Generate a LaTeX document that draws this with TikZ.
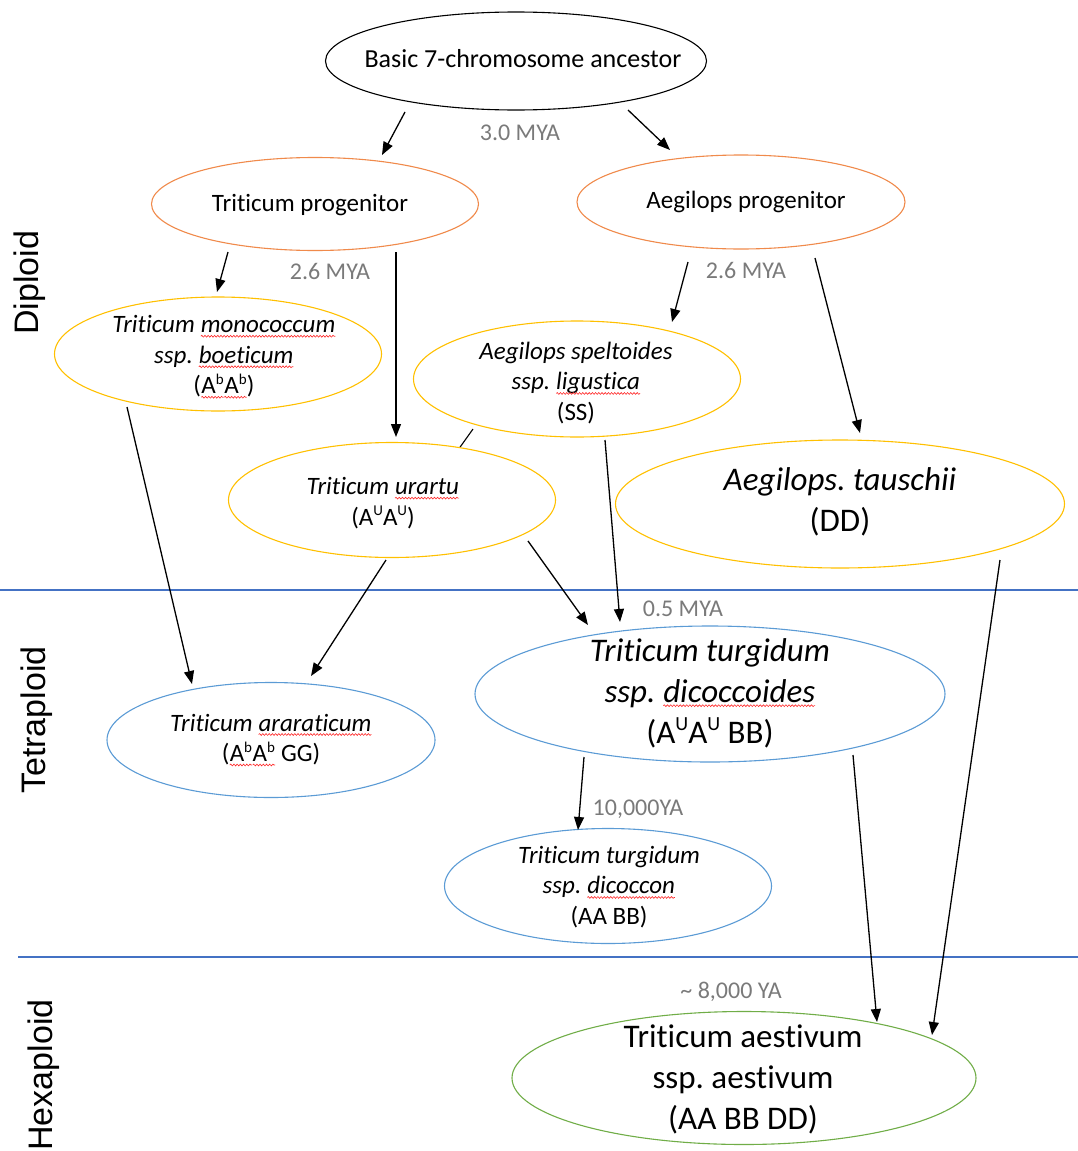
\documentclass[tikz,border=0pt]{standalone}
\usepackage{fontspec}
\setmainfont[RawFeature={-liga;-clig;-dlig;-calt}]{Carlito}
\newfontfamily\sidefont{Liberation Sans}
\usetikzlibrary{arrows.meta,calc,shapes.geometric,decorations.pathmorphing}
\definecolor{ancC}{HTML}{000000}
\definecolor{orgC}{HTML}{F08A4B}
\definecolor{yelC}{HTML}{FFC000}
\definecolor{bluC}{HTML}{5B9BD5}
\definecolor{grnC}{HTML}{70AD47}
\definecolor{linC}{HTML}{4472C4}
\definecolor{gryC}{HTML}{7A7A7A}
\newcommand\sqg[1]{\tikz[baseline=(w.base),x=1pt,y=1pt]{\node[inner sep=0pt,outer sep=0pt](w){#1};\draw[red!85,line width=0.6pt,decorate,decoration={snake,amplitude=0.9pt,segment length=3.2pt}] ([yshift=-3.5pt]w.base -| w.west) -- ([yshift=-3.5pt]w.base -| w.east);}}
\newcommand\sps[1]{\raisebox{0.38em}{\fontsize{15}{15}\selectfont #1}}
\frenchspacing
\begin{document}
\begin{tikzpicture}[x=1pt,y=-1pt,
  oval/.style={ellipse,draw,line width=1.1pt,inner sep=0pt,fill=white},
  txt/.style={align=center,inner sep=0pt,font=\fontsize{25}{30.5}\selectfont},
  bigtxt/.style={align=center,inner sep=0pt,font=\fontsize{33}{41}\selectfont},
  age/.style={inner sep=0pt,text=gryC,font=\fontsize{24}{28}\selectfont},
  side/.style={inner sep=0pt,rotate=90,font=\sidefont\fontsize{34}{38}\selectfont},
  arr/.style={draw,line width=1.3pt,-{Triangle[length=13pt,width=10pt]}},
  sep/.style={draw=linC,line width=1.1pt}]
\useasboundingbox (0,0) rectangle (1078,1151);
% separators
\coordinate (s1a) at (0,590); \coordinate (s1b) at (1078,590);
\coordinate (s2a) at (18,957); \coordinate (s2b) at (1078,957);
\draw[sep] (s1a) -- (s1b);
\draw[sep] (s2a) -- (s2b);
% side labels
\node[side] (ldip) at (30,283) {Diploid};
\node[side] (ltet) at (37,720) {Tetraploid};
\node[side] (lhex) at (44,1075) {Hexaploid};
% short leftover line (drawn before ovals)
\node[oval,draw=yelC,minimum width=327pt,minimum height=116pt] (spel) at (577,379) {};
\draw[line width=1.1pt] ($(spel)+(-104,50)$) -- ($(spel)+(-119,71)$);
% ovals
\node[oval,draw=ancC,minimum width=381pt,minimum height=98pt] (anc) at (516,61) {};
\node[oval,draw=orgC,minimum width=327pt,minimum height=93pt] (tprog) at (315,204) {};
\node[oval,draw=orgC,minimum width=328pt,minimum height=94pt] (aprog) at (741,202) {};
\node[oval,draw=yelC,minimum width=327pt,minimum height=114pt] (mono) at (218,354) {};
\node[oval,draw=yelC,minimum width=327pt,minimum height=115pt] (urar) at (392,500) {};
\node[oval,draw=yelC,minimum width=449pt,minimum height=128pt] (taus) at (840,504) {};
\node[oval,draw=bluC,minimum width=328pt,minimum height=115pt] (arar) at (271,740) {};
\node[oval,draw=bluC,minimum width=470pt,minimum height=136pt] (dicd) at (710,694) {};
\node[oval,draw=bluC,minimum width=327pt,minimum height=115pt] (dicn) at (608,886) {};
\node[oval,draw=grnC,minimum width=464pt,minimum height=133pt] (aest) at (744,1078) {};
% texts
\node[txt,font=\fontsize{26}{31}\selectfont] (tanc) at (523,59) {Basic 7-chromosome ancestor};
\node[txt] (ttprog) at (310,205) {Triticum progenitor};
\node[txt] (taprog) at (746,202) {Aegilops progenitor};
\node[txt] (tmono) at (224,357) {\textit{Triticum \sqg{monococcum}}\\\textit{ssp. \sqg{boeticum}}\\(\sqg{A\sps{b}}\sqg{A\sps{b}})};
\node[txt] (tspel) at (576,383) {\textit{Aegilops speltoides}\\\textit{ssp. \sqg{ligustica}}\\(SS)};
\node[txt] (turar) at (383,503) {\textit{Triticum \sqg{urartu}}\\(A\sps{U}A\sps{U})};
\node[bigtxt] (ttaus) at (840,502) {\textit{Aegilops. tauschii}\\(DD)};
\node[txt] (tarar) at (271,740) {\textit{Triticum \sqg{araraticum}}\\(\sqg{A\sps{b}}\sqg{A\sps{b}} GG)};
\node[bigtxt] (tdicd) at (710,693) {\textit{Triticum turgidum}\\\textit{ssp. \sqg{dicoccoides}}\\(A\raisebox{0.38em}{\fontsize{20}{20}\selectfont U}A\raisebox{0.38em}{\fontsize{20}{20}\selectfont U} BB)};
\node[txt] (tdicn) at (609,887) {\textit{Triticum turgidum}\\\textit{ssp. \sqg{dicoccon}}\\(AA BB)};
\node[bigtxt] (taest) at (743,1079) {Triticum aestivum\\ssp. aestivum\\(AA BB DD)};
% ages
\node[age] (g1) at (520,133) {3.0 MYA};
\node[age] (g2) at (330,271) {2.6 MYA};
\node[age] (g3) at (746,270) {2.6 MYA};
\node[age] (g4) at (683,609) {0.5 MYA};
\node[age] (g5) at (638,809) {10,000YA};
\node[age] (g6) at (731,992) {\textasciitilde{} 8,000 YA};
% arrows
\draw[arr] ($(anc)+(-111,51)$) -- ($(tprog)+(67,-49)$);
\draw[arr] ($(anc)+(112,49)$) -- ($(aprog)+(-71,-52)$);
\draw[arr] ($(tprog)+(-87,48)$) -- ($(mono)+(-1,-62)$);
\draw[arr] ($(tprog)+(81,48)$) -- ($(urar)+(4,-63)$);
\draw[arr] ($(aprog)+(-53,60)$) -- ($(spel)+(95,-57)$);
\draw[arr] ($(aprog)+(74,56)$) -- ($(taus)+(20,-71)$);
\draw[arr] ($(mono)+(-91,53)$) -- ($(arar)+(-79,-56)$);
\draw[arr] ($(urar)+(-6,60)$) -- ($(arar)+(40,-64)$);
\draw[arr] ($(urar)+(136,41)$) -- ($(dicd)+(-122,-69)$);
\draw[arr] ($(spel)+(28,61)$) -- ($(dicd)+(-90,-72)$);
\draw[arr] ($(taus)+(160,56)$) -- ($(aest)+(188,-43)$);
\draw[arr] ($(dicd)+(-126,63)$) -- ($(dicn)+(-30,-56)$);
\draw[arr] ($(dicd)+(143,61)$) -- ($(aest)+(133,-56)$);
\end{tikzpicture}
\end{document}
